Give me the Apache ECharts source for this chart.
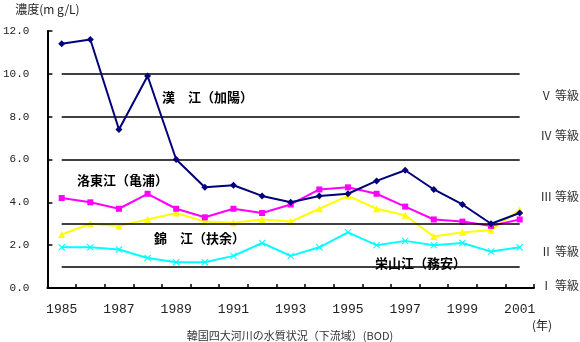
<!DOCTYPE html>
<html><head><meta charset="utf-8">
<script src="https://cdn.jsdelivr.net/npm/echarts@6/dist/echarts.min.js"></script>
<style>html,body{margin:0;padding:0;background:#fff}#c{width:580px;height:342px}</style>
</head><body><div id="c"></div>
<script>
var years = ['1985','1986','1987','1988','1989','1990','1991','1992','1993','1994','1995','1996','1997','1998','1999','2000','2001'];
var hanRiver      = [11.4,11.6,7.4,9.9,6.0,4.7,4.8,4.3,4.0,4.3,4.4,5.0,5.5,4.6,3.9,3.0,3.5];
var nakdongRiver  = [4.2,4.0,3.7,4.4,3.7,3.3,3.7,3.5,3.9,4.6,4.7,4.4,3.8,3.2,3.1,2.9,3.2];
var geumRiver     = [2.5,3.0,2.9,3.2,3.5,3.1,3.05,3.2,3.1,3.7,4.3,3.7,3.4,2.4,2.6,2.7,3.65];
var yeongsanRiver = [1.9,1.9,1.8,1.4,1.2,1.2,1.5,2.1,1.5,1.9,2.6,2.0,2.2,2.0,2.1,1.7,1.9];
var gradeLimits = [1,3,6,8,10];
var gradeLabels = ['Ⅴ 等級','Ⅳ 等級','Ⅲ 等級','Ⅱ 等級','Ⅰ 等級'];
var riverLabels = ['漢　江（加陽）','洛東江（亀浦）','錦　江（扶余）','栄山江（務安）'];

var chart = echarts.init(document.getElementById('c'));
var monoFont = '"Liberation Mono", monospace';
var cjkFont = '"Noto Sans CJK JP", sans-serif';
var xMark = 'path://M0,1 L1,0 L5,4 L9,0 L10,1 L6,5 L10,9 L9,10 L5,6 L1,10 L0,9 L4,5 Z';

var limitLines = gradeLimits.map(function(v){
  return [{coord:[years[0], v]}, {coord:[years[years.length-1], v]}];
});

function txt(x, y, s, opt){
  opt = opt || {};
  return {type:'text', x:x, y:y, z:100, style:{text:s, fill:opt.fill||'#000',
    font:(opt.weight||'normal')+' '+(opt.size||12)+'px '+(opt.family||cjkFont),
    align:opt.align||'left', verticalAlign:'middle'}};
}

chart.setOption({
  animation:false,
  backgroundColor:'#fff',
  title:{text:'韓国四大河川の水質状況（下流域）(BOD)', left:290, top:329, padding:0, textAlign:'center',
    textStyle:{fontSize:11, fontWeight:'normal', color:'#333', fontFamily:cjkFont, lineHeight:13}},
  grid:{left:44, right:46, top:31, bottom:54},
  xAxis:{type:'category', data:years, boundaryGap:true,
    axisLine:{lineStyle:{color:'#000', width:2}},
    axisTick:{show:true, inside:true, length:4, interval:0, lineStyle:{color:'#000', width:1.5}},
    axisLabel:{interval:1, margin:15, color:'#222', fontSize:13, fontFamily:monoFont},
    splitLine:{show:false}},
  yAxis:{type:'value', min:0, max:12, interval:2,
    name:'濃度(m g/L)', nameLocation:'end', nameGap:16,
    nameTextStyle:{fontSize:12, color:'#222', fontFamily:cjkFont, align:'center'},
    axisLine:{show:true, lineStyle:{color:'#000', width:2}},
    axisTick:{show:true, inside:true, length:5, lineStyle:{color:'#000', width:1.5}},
    axisLabel:{margin:18, color:'#222', fontSize:11, fontFamily:monoFont,
      formatter:function(v){return v.toFixed(1);}},
    splitLine:{show:false}},
  series:[
    {name:'栄山江', type:'line', data:yeongsanRiver, symbol:xMark, symbolSize:7, z:2,
      lineStyle:{color:'#00ffff', width:2}, itemStyle:{color:'#00ffff'},
      markLine:{silent:true, symbol:'none', label:{show:false},
        lineStyle:{color:'#000', width:1.5, type:'solid'}, data:limitLines}},
    {name:'錦江', type:'line', data:geumRiver, symbol:'triangle', symbolSize:7, z:3,
      lineStyle:{color:'#ffff00', width:2}, itemStyle:{color:'#ffff00'}},
    {name:'洛東江', type:'line', data:nakdongRiver, symbol:'rect', symbolSize:6, z:4,
      lineStyle:{color:'#ff00ff', width:2}, itemStyle:{color:'#ff00ff'}},
    {name:'漢江', type:'line', data:hanRiver, symbol:'diamond', symbolSize:7, z:5,
      lineStyle:{color:'#00007a', width:2}, itemStyle:{color:'#00007a'}}
  ],
  graphic:[
    txt(162, 97, riverLabels[0], {size:13, weight:'bold'}),
    txt(77, 180, riverLabels[1], {size:13, weight:'bold'}),
    txt(154, 238, riverLabels[2], {size:13, weight:'bold'}),
    txt(375, 263, riverLabels[3], {size:13, weight:'bold'}),
    txt(579, 95, gradeLabels[0], {align:'right', fill:'#333'}),
    txt(579, 135, gradeLabels[1], {align:'right', fill:'#333'}),
    txt(579, 196, gradeLabels[2], {align:'right', fill:'#333'}),
    txt(579, 251, gradeLabels[3], {align:'right', fill:'#333'}),
    txt(579, 285, gradeLabels[4], {align:'right', fill:'#333'}),
    txt(542, 325, '(年)', {align:'center', fill:'#222'})
  ]
});
</script></body></html>
